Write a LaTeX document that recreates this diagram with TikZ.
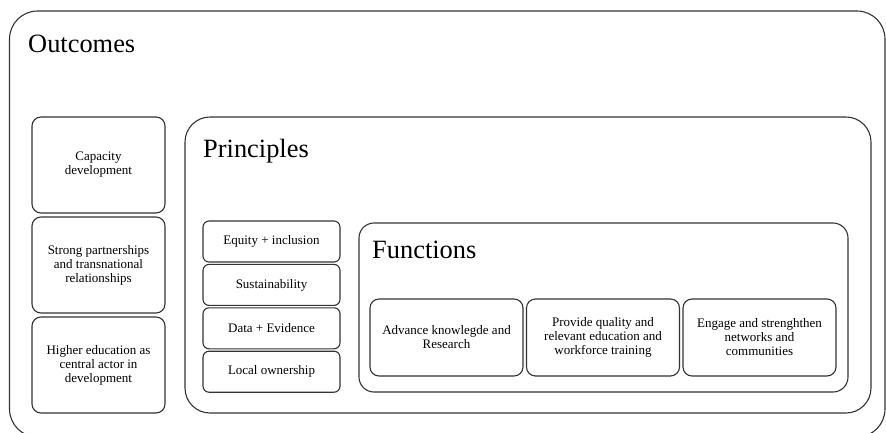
\documentclass[tikz,border=0pt]{standalone}
\usepackage{fontspec}
\setmainfont{Liberation Serif}
\usepackage{tikz}
\usetikzlibrary{positioning}

\begin{document}
\begin{tikzpicture}[x=1pt,y=-1pt,
		frame/.style={draw=black!80,line width=1.1pt},
		card/.style={frame,rounded corners=9pt,align=center,inner sep=2pt,
			font=\fontsize{13}{14}\selectfont},
		title/.style={anchor=base west,inner sep=0pt,font=\fontsize{26.4}{30}\selectfont}]
				\useasboundingbox (0,0) rectangle (886,432);
				% outer frame, bottom edge runs off the page
				\draw[frame,rounded corners=28pt] (9.5,11) rectangle (885,437);
				\node[title] (outcomes) at (28,52) {Outcomes};
				\foreach\y\txt [count=\i] in {165/{Capacity\\development},
						265/{Strong partnerships\\and transnational\\relationships},
						365/{Higher education as\\central actor in\\development}}
				{\node[card,minimum width=133pt,minimum height=96pt] (out\i) at (98.5,\y) {\txt};}
				% principles
				\node[frame,rounded corners=25pt,minimum width=686pt,minimum height=296pt] (principles) at (528,265) {};
				\node[title] (princtitle) at (203,157) {Principles};
				\foreach\txt [count=\i] in {Equity + inclusion, Sustainability, Data + Evidence, Local ownership}
				{\node[card,rounded corners=6pt,minimum width=137pt,minimum height=41pt] (pr\i) at (271.5,198.1+43.4*\i) {\txt};}
				% functions
				\node[frame,rounded corners=15pt,minimum width=489pt,minimum height=169pt] (functions) at (603.5,307.5) {};
				\node[title] (functitle) at (372,258) {Functions};
				\foreach\x\txt [count=\i] in {446.5/{Advance knowlegde and\\Research},
						603/{Provide quality and\\relevant education and\\workforce training},
						759.5/{Engage and strenghthen\\networks and\\communities}}
				{\node[card,minimum width=153pt,minimum height=77pt] (fn\i) at (\x,337.5) {\txt};}
	\end{tikzpicture}
\end{document}
